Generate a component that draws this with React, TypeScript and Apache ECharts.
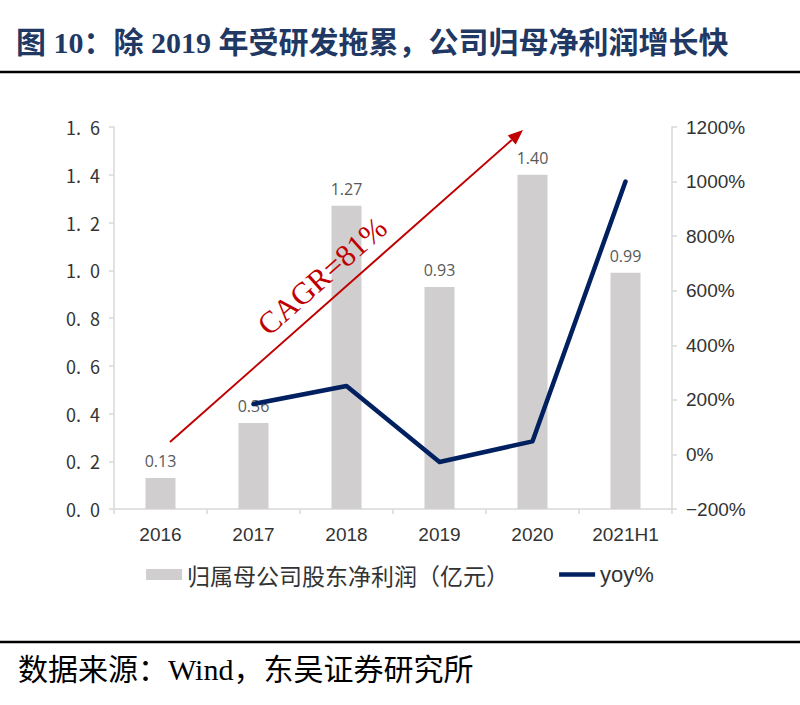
import React, { useEffect, useRef } from "react";
import * as echarts from "echarts";

const categories = ["2016", "2017", "2018", "2019", "2020", "2021H1"];
const profit = [0.13, 0.36, 1.27, 0.93, 1.4, 0.99];
const yoy: (number | null)[] = [null, 185, 251, -28, 48, 1000];
const leftTicks = { min: 0, max: 1.6, interval: 0.2 };
const rightTicks = { min: -200, max: 1200, interval: 200 };

const titleText = "图 10：除 2019 年受研发拖累，公司归母净利润增长快";
const sourceText = "数据来源：Wind，东吴证券研究所";
const barName = "归属母公司股东净利润（亿元）";
const lineName = "yoy%";
const cagrText = "CAGR=81%";

export default function App() {
  const ref = useRef<HTMLDivElement>(null);
  useEffect(() => {
    document.body.style.margin = "0";
    const chart = echarts.init(ref.current!, null, { renderer: "svg" });
    const axisColor = "#D9D9D9";
    const tipX = 523, tipY = 130, sx = 170, sy = 442;
    const len = Math.hypot(tipX - sx, tipY - sy);
    const ux = (tipX - sx) / len, uy = (tipY - sy) / len;
    const bx = tipX - 15 * ux, by = tipY - 15 * uy;
    const nx = -uy, ny = ux;
    const hw = 6;
    chart.setOption({
      animation: false,
      grid: { left: 114, right: 128, top: 127, bottom: 196, containLabel: false },
      legend: {
        bottom: 114,
        left: "center",
        itemGap: 50,
        itemWidth: 36,
        itemHeight: 11,
        textStyle: { fontFamily: "'Noto Sans CJK SC'", fontSize: 23, color: "#333" },
        data: [
          { name: barName, icon: "rect" },
          {
            name: lineName,
            icon: "path://M0,0 H36 V4.5 H0 Z",
            textStyle: { fontFamily: "'Liberation Sans Narrow', 'Liberation Sans'", fontSize: 22 },
          },
        ],
      },
      xAxis: {
        type: "category",
        data: categories,
        axisLine: { lineStyle: { color: axisColor, width: 1.5 } },
        axisTick: { show: true, alignWithLabel: false, length: 5, lineStyle: { color: axisColor, width: 1.5 } },
        axisLabel: { fontFamily: "'Liberation Sans Narrow', 'Liberation Sans'", fontSize: 19, color: "#333", margin: 16 },
      },
      yAxis: [
        {
          type: "value",
          ...leftTicks,
          splitLine: { show: false },
          axisLine: { show: true, lineStyle: { color: axisColor, width: 1.5 } },
          axisTick: { show: true, length: 5, lineStyle: { color: axisColor, width: 1.5 } },
          axisLabel: {
            formatter: (v: number) => {
              const s = v.toFixed(1);
              return s[0] + ".\u2002" + s[2];
            },
            fontFamily: "'Noto Sans CJK SC'",
            fontSize: 18,
            color: "#333",
            margin: 14,
          },
        },
        {
          type: "value",
          ...rightTicks,
          position: "right",
          splitLine: { show: false },
          axisLine: { show: true, lineStyle: { color: axisColor, width: 1.5 } },
          axisTick: { show: true, length: 5, lineStyle: { color: axisColor, width: 1.5 } },
          axisLabel: {
            formatter: (v: number) => (v < 0 ? "\u2212" + Math.abs(v) : v) + "%",
            fontFamily: "'Liberation Sans Narrow', 'Liberation Sans'",
            fontSize: 19,
            color: "#333",
            margin: 14,
          },
        },
      ],
      series: [
        {
          name: barName,
          type: "bar",
          data: profit,
          barWidth: 30,
          itemStyle: { color: "#D0CECE" },
          label: {
            show: true,
            position: "top",
            distance: 9,
            formatter: (p: any) => p.value.toFixed(2),
            fontFamily: "'Open Sans'",
            fontSize: 16,
            color: "#595959",
          },
          z: 1,
        },
        {
          name: lineName,
          type: "line",
          yAxisIndex: 1,
          data: yoy,
          symbol: "none",
          lineStyle: { color: "#002060", width: 4.5, cap: "round", join: "round" },
          itemStyle: { color: "#002060" },
          z: 5,
        },
      ],
      graphic: [
        {
          type: "text",
          left: 16,
          top: 27,
          style: {
            text: titleText,
            fontFamily: "'Liberation Serif', 'Noto Sans CJK SC'",
            fontWeight: "bold",
            fontSize: 30,
            fill: "#1F3864",
          },
        },
        { type: "line", shape: { x1: 0, y1: 72, x2: 800, y2: 72 }, style: { stroke: "#000", lineWidth: 2.5 } },
        { type: "line", shape: { x1: 0, y1: 642, x2: 800, y2: 642 }, style: { stroke: "#000", lineWidth: 2.5 } },
        {
          type: "text",
          left: 18,
          top: 654,
          style: {
            text: sourceText,
            fontFamily: "'Liberation Serif', 'Noto Sans CJK SC'",
            fontSize: 30,
            fill: "#000",
          },
        },
        {
          type: "line",
          z: 10,
          shape: { x1: sx, y1: sy, x2: bx, y2: by },
          style: { stroke: "#C00000", lineWidth: 2 },
        },
        {
          type: "polygon",
          z: 10,
          shape: {
            points: [
              [tipX, tipY],
              [bx + hw * nx, by + hw * ny],
              [bx - hw * nx, by - hw * ny],
            ],
          },
          style: { fill: "#C00000" },
        },
        {
          type: "text",
          z: 10,
          x: 322,
          y: 276,
          rotation: Math.atan2(sy - tipY, tipX - sx),
          style: {
            text: cagrText,
            fontFamily: "'Liberation Serif'",
            fontSize: 31,
            fill: "#C00000",
            align: "center",
            verticalAlign: "middle",
          },
        },
      ],
    });
    return () => chart.dispose();
  }, []);
  return <div ref={ref} style={{ width: 800, height: 705 }} />;
}
